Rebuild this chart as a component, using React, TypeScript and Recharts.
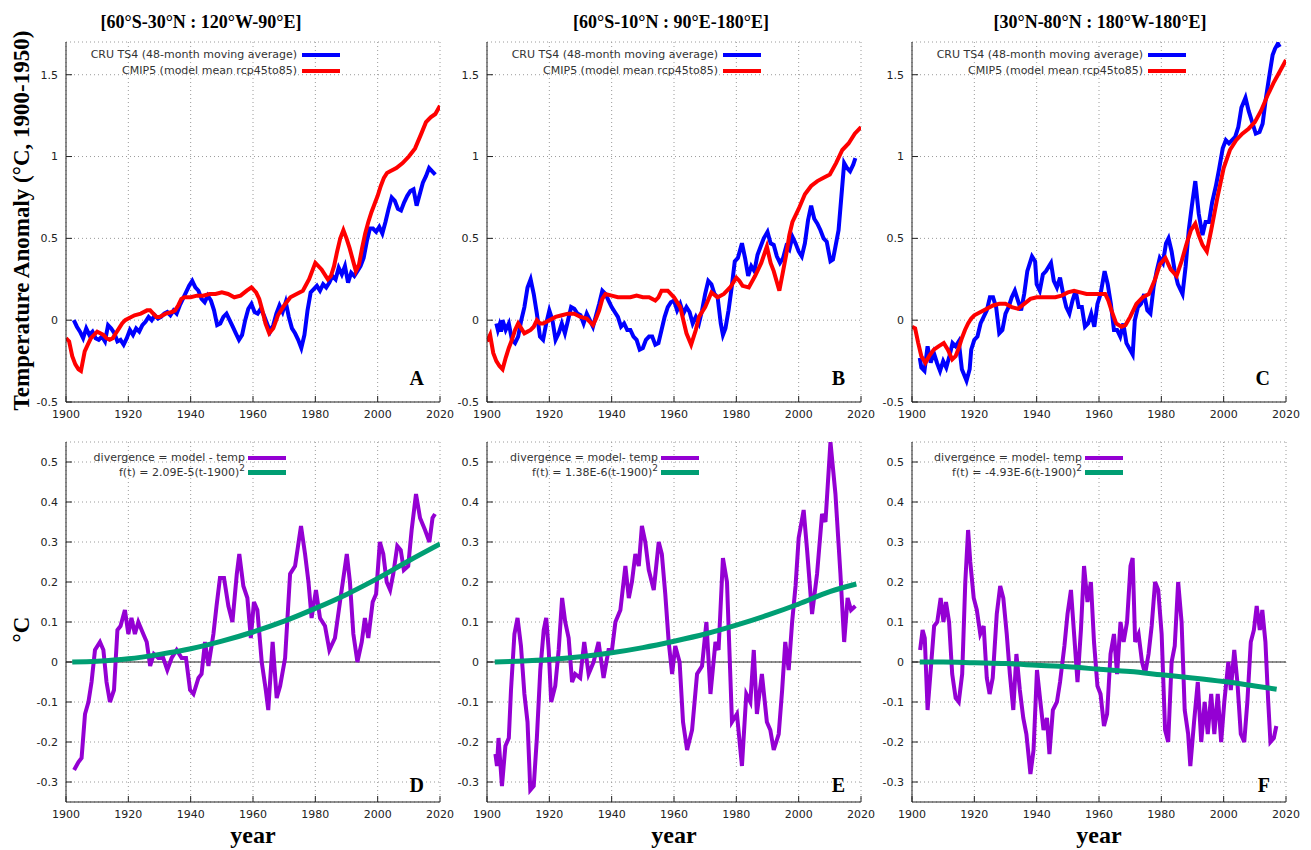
import React from "react";
import {
  LineChart,
  Line,
  XAxis,
  YAxis,
  CartesianGrid,
  ReferenceLine,
  Legend,
} from "recharts";

type Pair = [number, number];

const yearTicks = [1900, 1920, 1940, 1960, 1980, 2000, 2020];
const anomalyTicks = [-0.5, 0, 0.5, 1, 1.5];
const divergenceTicks = [-0.3, -0.2, -0.1, 0, 0.1, 0.2, 0.3, 0.4, 0.5];

const regionTitles = [
  "[60°S-30°N : 120°W-90°E]",
  "[60°S-10°N : 90°E-180°E]",
  "[30°N-80°N : 180°W-180°E]",
];
const topLetters = ["A", "B", "C"];
const bottomLetters = ["D", "E", "F"];
const tempLabel = "CRU TS4 (48-month moving average)";
const modelLabel = "CMIP5 (model mean rcp45to85)";
const divergenceLabels = [
  "divergence = model - temp",
  "divergence = model- temp",
  "divergence = model- temp",
];
const fitCoefs = ["2.09E-5", "1.38E-6", "-4.93E-6"];

// ---- top row: CRU TS4 (blue) and CMIP5 (red) ----
const tempA: Pair[] = [
  [1902.5, 0.0], [1903.5, -0.04], [1904.5, -0.07], [1905.5, -0.11], [1906.5, -0.05], [1907.5, -0.09],
  [1908.5, -0.07], [1909.5, -0.11], [1910.5, -0.12], [1911.5, -0.1], [1912.5, -0.13], [1913.5, -0.03],
  [1914.5, -0.05], [1915.5, -0.08], [1916.5, -0.13], [1917.5, -0.12], [1918.5, -0.15], [1919.5, -0.11],
  [1920.5, -0.06], [1921.5, -0.09], [1922.5, -0.05], [1923.5, -0.07], [1924.5, -0.03], [1925.5, -0.01],
  [1926.5, 0.02], [1927.5, 0.0], [1928.5, 0.03], [1929.5, 0.01], [1930.5, 0.02], [1931.5, 0.04],
  [1932.5, 0.05], [1933.5, 0.03], [1934.5, 0.06], [1935.5, 0.04], [1936.5, 0.09], [1937.5, 0.13],
  [1938.5, 0.17], [1939.5, 0.21], [1940.5, 0.24], [1941.5, 0.2], [1942.5, 0.18], [1943.5, 0.13],
  [1944.5, 0.11], [1945.5, 0.15], [1946.5, 0.12], [1947.5, 0.06], [1948.5, -0.03], [1949.5, -0.02],
  [1950.5, 0.02], [1951.5, 0.04], [1952.5, 0.0], [1953.5, -0.04], [1954.5, -0.08], [1955.5, -0.12],
  [1956.5, -0.09], [1957.5, 0.0], [1958.5, 0.07], [1959.5, 0.1], [1960.5, 0.05], [1961.5, 0.04],
  [1962.5, 0.07], [1963.5, 0.03], [1964.5, -0.02], [1965.5, -0.07], [1966.5, -0.03], [1967.5, 0.04],
  [1968.5, 0.09], [1969.5, 0.05], [1970.5, 0.11], [1971.5, 0.02], [1972.5, -0.05], [1973.5, -0.08],
  [1974.5, -0.12], [1975.5, -0.17], [1976.5, -0.09], [1977.5, 0.06], [1978.5, 0.17], [1979.5, 0.19],
  [1980.5, 0.21], [1981.5, 0.18], [1982.5, 0.22], [1983.5, 0.2], [1984.5, 0.23], [1985.5, 0.27],
  [1986.5, 0.25], [1987.5, 0.32], [1988.5, 0.28], [1989.5, 0.33], [1990.5, 0.23], [1991.5, 0.29],
  [1992.5, 0.27], [1993.5, 0.3], [1994.5, 0.33], [1995.5, 0.38], [1996.5, 0.48], [1997.5, 0.56],
  [1998.5, 0.56], [1999.5, 0.54], [2000.5, 0.57], [2001.5, 0.53], [2002.5, 0.6], [2003.5, 0.68],
  [2004.5, 0.75], [2005.5, 0.73], [2006.5, 0.68], [2007.5, 0.67], [2008.5, 0.72], [2009.5, 0.76],
  [2010.5, 0.79], [2011.5, 0.8], [2012.5, 0.7], [2013.5, 0.77], [2014.5, 0.84], [2015.5, 0.88],
  [2016.5, 0.93], [2017.5, 0.91], [2018.5, 0.89],
];

const modelA: Pair[] = [
  [1900, -0.11], [1901, -0.13], [1902, -0.22], [1903, -0.27], [1904, -0.3], [1904.8, -0.31],
  [1906, -0.19], [1907, -0.15], [1908, -0.11], [1909, -0.09], [1910, -0.07], [1911, -0.08],
  [1912, -0.09], [1913, -0.11], [1914, -0.12], [1915, -0.11], [1916, -0.08], [1917, -0.05],
  [1918, -0.02], [1919, 0.0], [1920, 0.01], [1922, 0.03], [1924, 0.04], [1926, 0.06], [1927, 0.06],
  [1928, 0.04], [1929, 0.02], [1930, 0.02], [1932, 0.04], [1934, 0.05], [1935, 0.06], [1936, 0.09],
  [1937, 0.13], [1938, 0.14], [1940, 0.14], [1942, 0.15], [1944, 0.15], [1946, 0.16], [1948, 0.16],
  [1950, 0.17], [1952, 0.16], [1954, 0.14], [1956, 0.15], [1958, 0.18], [1959.5, 0.2], [1961, 0.17],
  [1962, 0.13], [1963, 0.06], [1964, -0.02], [1965.2, -0.08], [1966.5, -0.05], [1968, 0.03],
  [1970, 0.09], [1972, 0.14], [1974, 0.16], [1976, 0.18], [1978, 0.25], [1980, 0.35], [1982, 0.31],
  [1984, 0.25], [1985, 0.27], [1986, 0.33], [1987, 0.42], [1988, 0.5], [1989, 0.55], [1990, 0.5],
  [1991, 0.44], [1992, 0.37], [1993, 0.3], [1994, 0.34], [1995, 0.44], [1996, 0.53], [1997, 0.6],
  [1998, 0.66], [1999, 0.71], [2000, 0.76], [2001, 0.82], [2002, 0.87], [2003, 0.9], [2004, 0.91],
  [2006, 0.93], [2008, 0.96], [2010, 1.0], [2012, 1.05], [2014, 1.14], [2015.5, 1.21], [2017, 1.24],
  [2018.5, 1.26], [2020, 1.31],
];

const tempB: Pair[] = [
  [1903, -0.02], [1903.5, -0.06], [1904, -0.03], [1904.5, -0.07], [1905, 0.0], [1906, -0.06],
  [1907, -0.02], [1908, -0.12], [1909, -0.14], [1910, -0.1], [1911, 0.0], [1912, 0.08], [1913, 0.2],
  [1914, 0.25], [1915, 0.16], [1916, 0.04], [1917, -0.1], [1918, -0.12], [1919, -0.02], [1920, 0.06],
  [1921, 0.0], [1922, -0.12], [1923, -0.08], [1924, -0.02], [1925, -0.08], [1926, 0.0], [1927, 0.08],
  [1928, 0.07], [1929, 0.04], [1930, 0.03], [1931, -0.02], [1932, 0.04], [1933, 0.0], [1934, -0.04],
  [1935, 0.03], [1936, 0.1], [1937, 0.18], [1938, 0.16], [1939, 0.12], [1940, 0.08], [1941, 0.05],
  [1942, 0.02], [1943, -0.04], [1944, -0.02], [1945, -0.06], [1946, -0.06], [1947, -0.1], [1948, -0.12],
  [1949, -0.18], [1950, -0.17], [1951, -0.12], [1952, -0.1], [1953, -0.1], [1954, -0.15], [1955, -0.14],
  [1956, -0.06], [1957, 0.02], [1958, 0.08], [1959, 0.11], [1960, 0.12], [1961, 0.06], [1962, 0.1],
  [1963, 0.04], [1964, 0.08], [1965, 0.05], [1966, -0.02], [1967, 0.02], [1968, -0.02], [1969, 0.06],
  [1970, 0.16], [1971, 0.24], [1972, 0.22], [1973, 0.16], [1974, 0.14], [1975, -0.02], [1975.7, -0.09],
  [1976.5, -0.05], [1977.5, 0.06], [1978.5, 0.2], [1979.5, 0.36], [1980.5, 0.38], [1981.8, 0.47],
  [1982.8, 0.38], [1983.8, 0.27], [1984.8, 0.33], [1985.8, 0.3], [1986.8, 0.4], [1987.8, 0.45],
  [1988.8, 0.5], [1990, 0.54], [1991, 0.47], [1992, 0.46], [1993, 0.39], [1994, 0.35], [1995, 0.38],
  [1996, 0.45], [1997, 0.43], [1998, 0.51], [1999, 0.47], [2000, 0.42], [2001, 0.39], [2002, 0.47],
  [2003, 0.61], [2004, 0.7], [2005, 0.62], [2006, 0.59], [2007, 0.55], [2008, 0.5], [2009, 0.48],
  [2010.2, 0.36], [2011, 0.37], [2011.8, 0.45], [2012.8, 0.55], [2013.9, 0.8], [2014.6, 0.96],
  [2015.5, 0.93], [2016.5, 0.91], [2017.5, 0.95], [2018.2, 0.99],
];

const modelB: Pair[] = [
  [1900, -0.13], [1901, -0.09], [1902, -0.2], [1903, -0.25], [1904, -0.28], [1905, -0.3], [1906, -0.23],
  [1907, -0.17], [1908, -0.12], [1909, -0.06], [1910, -0.02], [1911, -0.05], [1912, -0.08], [1913, -0.07],
  [1914, -0.06], [1915, -0.04], [1916, 0.0], [1917, -0.02], [1918, -0.02], [1920, 0.0], [1922, 0.02],
  [1924, 0.03], [1926, 0.04], [1928, 0.04], [1930, 0.02], [1932, 0.01], [1934, -0.03], [1935, 0.01],
  [1936, 0.06], [1937, 0.13], [1938, 0.16], [1940, 0.15], [1942, 0.14], [1944, 0.14], [1946, 0.14],
  [1948, 0.15], [1950, 0.14], [1952, 0.14], [1954, 0.12], [1955, 0.14], [1956, 0.18], [1958, 0.18],
  [1960, 0.14], [1962, 0.08], [1963, 0.0], [1964, -0.08], [1965.5, -0.15], [1967, -0.06], [1968, 0.02],
  [1970, 0.08], [1972, 0.17], [1974, 0.14], [1976, 0.16], [1978, 0.2], [1980, 0.26], [1981, 0.24],
  [1982, 0.21], [1984, 0.2], [1986, 0.27], [1988, 0.35], [1989.8, 0.45], [1991, 0.35], [1992, 0.3],
  [1993.8, 0.18], [1995, 0.3], [1996, 0.4], [1997, 0.52], [1998, 0.6], [2000, 0.68], [2002, 0.77],
  [2004, 0.82], [2006, 0.85], [2008, 0.87], [2010, 0.89], [2012, 0.96], [2014, 1.04], [2016, 1.08],
  [2018, 1.14], [2020, 1.18],
];

const tempC: Pair[] = [
  [1902.5, -0.23], [1903, -0.29], [1904, -0.31], [1905, -0.16], [1906, -0.26], [1907, -0.2], [1908, -0.26],
  [1909, -0.31], [1910, -0.25], [1911, -0.29], [1912, -0.22], [1913, -0.14], [1914, -0.16], [1915, -0.13],
  [1916, -0.3], [1917.5, -0.37], [1918.5, -0.3], [1919, -0.18], [1920, -0.12], [1921, -0.1], [1922, -0.02],
  [1923, 0.02], [1924, 0.06], [1925, 0.14], [1926, 0.14], [1927, 0.08], [1928, -0.08], [1929, -0.06],
  [1930, 0.04], [1931, 0.08], [1932, 0.14], [1933, 0.18], [1934, 0.12], [1935, 0.06], [1936, 0.16],
  [1937, 0.3], [1938.5, 0.39], [1939.5, 0.36], [1940, 0.22], [1941, 0.18], [1942, 0.28], [1943, 0.3],
  [1944.6, 0.35], [1945.5, 0.24], [1946.5, 0.2], [1947.5, 0.26], [1948.5, 0.16], [1949.5, 0.08],
  [1950.5, 0.04], [1951.5, 0.12], [1952.5, 0.18], [1953.5, 0.08], [1954.5, 0.08], [1955.5, -0.04],
  [1956.5, -0.02], [1957.5, 0.04], [1958.5, -0.04], [1959.5, 0.1], [1960.5, 0.16], [1961.8, 0.3],
  [1962.8, 0.22], [1963.8, 0.1], [1964.8, -0.06], [1965.8, -0.06], [1966.8, -0.1], [1967.8, -0.02],
  [1968.8, -0.14], [1970.8, -0.21], [1971.5, 0.0], [1972.5, 0.08], [1973.5, 0.1], [1974.5, 0.16],
  [1975.5, 0.06], [1976.5, 0.04], [1977.5, 0.2], [1978.5, 0.3], [1979.5, 0.38], [1980.5, 0.35],
  [1981.5, 0.47], [1982.3, 0.5], [1983.3, 0.42], [1984.3, 0.3], [1985.3, 0.22], [1986.8, 0.16],
  [1987.8, 0.33], [1988.8, 0.55], [1989.8, 0.7], [1990.9, 0.85], [1992, 0.65], [1993.2, 0.52],
  [1994.2, 0.6], [1995.3, 0.6], [1996.3, 0.72], [1997.5, 0.82], [1998.5, 0.92], [1999.7, 1.05],
  [2000.7, 1.1], [2001.7, 1.08], [2002.7, 1.1], [2003.7, 1.12], [2004.7, 1.18], [2005.7, 1.3],
  [2007, 1.36], [2008, 1.28], [2009, 1.22], [2010.3, 1.14], [2011.5, 1.15], [2012.5, 1.2],
  [2013.5, 1.35], [2014.7, 1.5], [2015.7, 1.62], [2016.5, 1.66], [2017.4, 1.69], [2018, 1.67],
];

const modelC: Pair[] = [
  [1900, -0.04], [1901, -0.05], [1902, -0.14], [1903, -0.22], [1904.3, -0.26], [1905.5, -0.22],
  [1907, -0.18], [1908.5, -0.16], [1910.2, -0.14], [1911.5, -0.18], [1912.9, -0.24], [1914, -0.22],
  [1915, -0.17], [1916, -0.11], [1917, -0.06], [1918, -0.02], [1919, 0.01], [1920, 0.03], [1922, 0.05],
  [1924, 0.07], [1926, 0.09], [1928, 0.1], [1930, 0.1], [1932, 0.08], [1934, 0.07], [1936, 0.1],
  [1938, 0.13], [1940, 0.14], [1942, 0.14], [1944, 0.14], [1946, 0.14], [1948, 0.15], [1950, 0.17],
  [1952, 0.18], [1954, 0.17], [1956, 0.16], [1958, 0.16], [1960, 0.16], [1962, 0.16], [1963, 0.12],
  [1964, 0.06], [1965.5, -0.02], [1967.2, -0.04], [1968.5, -0.03], [1970, 0.02], [1972, 0.1],
  [1974, 0.14], [1976, 0.16], [1978, 0.25], [1979.5, 0.34], [1981.3, 0.38], [1983, 0.31],
  [1984.9, 0.27], [1986.5, 0.36], [1988, 0.46], [1989.5, 0.55], [1990.9, 0.59], [1992, 0.52],
  [1993.2, 0.46], [1994.6, 0.42], [1996, 0.55], [1998, 0.75], [2000, 0.93], [2002, 1.04], [2004, 1.1],
  [2006, 1.14], [2008, 1.17], [2010, 1.21], [2012, 1.28], [2014, 1.37], [2016, 1.45], [2018, 1.52],
  [2020, 1.59],
];

// ---- bottom row: divergence (purple) and quadratic fit (green) ----
const divD: Pair[] = [
  [1902.6, -0.27], [1904, -0.25], [1905, -0.24], [1906.1, -0.13], [1907.2, -0.1], [1908.2, -0.05],
  [1909.3, 0.03], [1910.9, 0.05], [1912, 0.03], [1913, -0.05], [1914.1, -0.1], [1915.4, -0.07],
  [1916.5, 0.08], [1917.5, 0.09], [1918.9, 0.13], [1920, 0.07], [1921, 0.11], [1922.1, 0.07],
  [1923.2, 0.1], [1924.8, 0.07], [1925.9, 0.05], [1927, -0.01], [1928.2, 0.02], [1929.6, 0.01],
  [1931.2, 0.01], [1932.5, -0.02], [1933.9, 0.01], [1935.5, 0.03], [1937.1, 0.01], [1938.5, 0.01],
  [1939.8, -0.07], [1940.9, -0.08], [1942.5, -0.04], [1943.5, -0.03], [1944.6, 0.05], [1945.7, -0.01],
  [1947.3, 0.07], [1948.3, 0.14], [1949.4, 0.21], [1950.7, 0.21], [1952.1, 0.14], [1953.4, 0.1],
  [1954.8, 0.22], [1955.6, 0.27], [1956.9, 0.19], [1958.2, 0.16], [1959.3, 0.06], [1960.3, 0.15],
  [1961.4, 0.13], [1962.8, 0.0], [1964.1, -0.07], [1964.9, -0.12], [1966.3, 0.05], [1967.6, -0.09],
  [1968.7, -0.06], [1970.3, 0.01], [1971.9, 0.22], [1973.5, 0.24], [1975.4, 0.34], [1976.7, 0.27],
  [1977.8, 0.2], [1978.8, 0.11], [1980.2, 0.18], [1981.5, 0.11], [1983.1, 0.09], [1984.5, 0.03],
  [1986.3, 0.06], [1987.9, 0.15], [1989, 0.21], [1990.1, 0.27], [1991.1, 0.2], [1992.2, 0.07],
  [1993.5, 0.0], [1994.9, 0.05], [1995.9, 0.11], [1997, 0.06], [1998.4, 0.15], [1999.5, 0.17],
  [2000.7, 0.3], [2001.8, 0.27], [2002.9, 0.2], [2004, 0.18], [2005, 0.22], [2006.3, 0.29],
  [2007.4, 0.28], [2008.4, 0.23], [2009.8, 0.24], [2010.9, 0.33], [2012.3, 0.42], [2013.6, 0.36],
  [2015.2, 0.33], [2016.6, 0.3], [2017.6, 0.36], [2018.4, 0.37],
];

const fitD: Pair[] = [
  [1902, 0], [1910, 0.002], [1920, 0.008], [1930, 0.019], [1940, 0.033], [1950, 0.052], [1960, 0.075],
  [1970, 0.102], [1980, 0.134], [1990, 0.169], [2000, 0.209], [2010, 0.253], [2020, 0.295],
];

const divE: Pair[] = [
  [1902.7, -0.23], [1903.2, -0.26], [1903.7, -0.19], [1904.8, -0.31], [1905.9, -0.21], [1907, -0.19],
  [1907.7, -0.07], [1908.8, 0.07], [1909.8, 0.11], [1910.9, 0.04], [1912, -0.08], [1913, -0.15],
  [1913.9, -0.32], [1915, -0.31], [1916, -0.19], [1917.1, -0.02], [1918.2, 0.08], [1919, 0.11],
  [1919.8, 0.03], [1920.6, -0.1], [1921.9, -0.06], [1923, 0.03], [1924.1, 0.16], [1925.1, 0.1],
  [1926.2, 0.06], [1927.3, -0.05], [1928.3, -0.03], [1929.9, -0.04], [1931.2, 0.05], [1932.6, -0.03],
  [1934.2, 0.0], [1935.8, 0.05], [1937.4, -0.04], [1939, 0.03], [1940.1, 0.03], [1941.2, 0.1],
  [1942.8, 0.13], [1944.4, 0.24], [1945.5, 0.16], [1946.5, 0.2], [1947.6, 0.27], [1948.7, 0.24],
  [1949.7, 0.34], [1950.8, 0.3], [1951.9, 0.23], [1953.5, 0.18], [1955.1, 0.3], [1956.1, 0.27],
  [1957.2, 0.17], [1958.3, 0.05], [1959.4, -0.03], [1960.4, 0.04], [1961.8, 0.0], [1962.9, -0.15],
  [1964.2, -0.22], [1965.8, -0.17], [1967.4, -0.03], [1969, -0.01], [1970.4, 0.1], [1971.7, -0.08],
  [1973.3, 0.05], [1974.3, 0.03], [1975.7, 0.26], [1977, 0.2], [1978.6, -0.15], [1980.2, -0.13],
  [1981.8, -0.26], [1983.2, -0.08], [1984.5, -0.1], [1985.6, 0.03], [1986.6, -0.13], [1988.2, -0.03],
  [1989.8, -0.15], [1990.9, -0.17], [1992, -0.22], [1993.6, -0.18], [1994.7, -0.07], [1995.7, 0.05],
  [1996.8, -0.02], [1997.9, 0.1], [1999, 0.19], [2000, 0.31], [2001.6, 0.38], [2002.7, 0.28],
  [2004.3, 0.12], [2005.9, 0.22], [2007.5, 0.37], [2008.6, 0.35], [2010.2, 0.55], [2011.8, 0.42],
  [2013.4, 0.22], [2014.6, 0.05], [2015.7, 0.16], [2016.8, 0.13], [2018.2, 0.14],
];

const fitE: Pair[] = [
  [1902.5, 0], [1910, 0.002], [1920, 0.006], [1930, 0.013], [1940, 0.023], [1950, 0.036], [1960, 0.052],
  [1970, 0.07], [1980, 0.092], [1990, 0.117], [2000, 0.145], [2010, 0.176], [2018.5, 0.195],
];

const divF: Pair[] = [
  [1902.6, 0.03], [1903.4, 0.08], [1904.1, 0.06], [1905, -0.12], [1906, -0.02], [1907.1, 0.09],
  [1908.1, 0.1], [1909.2, 0.16], [1910.1, 0.1], [1910.9, 0.15], [1911.9, 0.1], [1912.9, -0.03],
  [1914, -0.09], [1915, -0.1], [1916.1, -0.03], [1917.1, 0.2], [1918, 0.33], [1918.7, 0.25],
  [1919.8, 0.16], [1920.8, 0.13], [1921.9, 0.07], [1923, 0.09], [1924, -0.04], [1924.9, -0.08],
  [1925.9, -0.04], [1927.2, 0.12], [1928.3, 0.19], [1929.3, 0.16], [1930.4, 0.07], [1931.4, -0.03],
  [1932.5, -0.12], [1933.5, 0.02], [1934.6, -0.07], [1935.7, -0.14], [1936.7, -0.18], [1938, -0.28],
  [1939, -0.22], [1940.1, -0.02], [1941.2, -0.1], [1942.2, -0.17], [1943.3, -0.14], [1944.1, -0.23],
  [1945.2, -0.12], [1946.5, -0.1], [1947.5, -0.05], [1948.9, 0.04], [1949.9, 0.12], [1951, 0.18],
  [1952.1, 0.06], [1953.1, -0.05], [1954.2, 0.08], [1955.2, 0.24], [1956.3, 0.15], [1957.4, 0.2],
  [1958.4, 0.05], [1959.5, -0.06], [1960.5, -0.08], [1961.6, -0.16], [1962.6, -0.13], [1963.7, 0.02],
  [1964.8, 0.07], [1965.8, -0.03], [1966.9, 0.1], [1967.9, 0.05], [1969, 0.1], [1970.1, 0.24],
  [1970.8, 0.26], [1971.6, 0.05], [1972.7, 0.07], [1973.8, 0.0], [1974.8, -0.03], [1975.9, 0.02],
  [1976.9, 0.09], [1978, 0.2], [1979, 0.18], [1980.1, 0.07], [1981.2, -0.17], [1982.2, -0.2],
  [1983.3, 0.0], [1984.3, 0.04], [1985.4, 0.2], [1986.5, 0.1], [1987.5, -0.12], [1988.6, -0.18],
  [1989.3, -0.26], [1990.5, -0.15], [1991.7, -0.05], [1992.8, -0.2], [1993.9, -0.1], [1994.9, -0.18],
  [1996, -0.08], [1997, -0.18], [1998.1, -0.08], [1999.2, -0.2], [2000.2, -0.1], [2001.5, 0.0],
  [2002.3, -0.07], [2003.4, 0.03], [2004.4, -0.05], [2005.5, -0.18], [2006.6, -0.2], [2007.6, -0.1],
  [2008.7, 0.05], [2009.7, 0.08], [2010.6, 0.14], [2011.6, 0.08], [2012.4, 0.13], [2013.4, 0.05],
  [2014.3, -0.1], [2015, -0.2], [2016.1, -0.19], [2016.9, -0.16],
];

const fitF: Pair[] = [
  [1902.5, 0], [1910, 0], [1920, -0.002], [1930, -0.004], [1940, -0.008], [1950, -0.012], [1960, -0.018],
  [1970, -0.024], [1980, -0.032], [1990, -0.04], [2000, -0.049], [2010, -0.06], [2017, -0.068],
];

const plotLefts = [66, 487, 912];
const PLOT_W = 374;
const PLOT_H = 360;
const CHART_W = 60 + PLOT_W + 20;

const BLUE = "#0000ff";
const RED = "#ff0000";
const PURPLE = "#9400d3";
const GREEN = "#009e73";

const serif = "'Liberation Serif', 'Times New Roman', serif";
const sans = "'DejaVu Sans', Verdana, sans-serif";

const axisStroke = { stroke: "#222", strokeWidth: 1 };
const tickStyle = { fill: "#222", fontSize: 11, fontFamily: sans };

interface Series {
  key: string;
  label: React.ReactNode;
  points: Pair[];
  color: string;
  width: number;
  smooth?: boolean;
}

interface KeySpec {
  top: number;
  rowH: number;
  textW: number;
  gap: number;
  sampleW: number;
}

const toPoints = (p: Pair[]) => p.map(([x, y]) => ({ x, y }));

const KeyBox = ({ series, spec }: { series: Series[]; spec: KeySpec }) => (
  <div
    style={{
      position: "relative",
      width: spec.textW + spec.gap + spec.sampleW,
      height: spec.rowH * series.length,
      fontFamily: sans,
      fontSize: 11,
      color: "#333",
    }}
  >
    {series.map((s, i) => (
      <div
        key={s.key}
        style={{
          position: "absolute",
          top: i * spec.rowH,
          left: 0,
          height: spec.rowH,
          display: "flex",
          alignItems: "center",
        }}
      >
        <span
          style={{
            width: spec.textW,
            textAlign: "right",
            whiteSpace: "nowrap",
            lineHeight: `${spec.rowH}px`,
          }}
        >
          {s.label}
        </span>
        <span
          style={{
            marginLeft: spec.gap,
            width: spec.sampleW,
            height: s.width,
            background: s.color,
            display: "inline-block",
          }}
        />
      </div>
    ))}
  </div>
);

interface PanelProps {
  plotLeft: number;
  chartTop: number;
  chartH: number;
  plotTop: number;
  yDomain: [number, number];
  yTicks: number[];
  series: Series[];
  zero?: boolean;
  keySpec: KeySpec;
}

const Panel = ({ plotLeft, chartTop, chartH, plotTop, yDomain, yTicks, series, zero, keySpec }: PanelProps) => {
  const marginBottom = chartH - plotTop - PLOT_H - 22;
  return (
    <div style={{ position: "absolute", left: plotLeft - 60, top: chartTop }}>
      <LineChart
        width={CHART_W}
        height={chartH}
        margin={{ top: plotTop, right: 20, bottom: marginBottom, left: 10 }}
      >
        <CartesianGrid stroke="#9a9a9a" strokeDasharray="1 3" />
        <XAxis
          dataKey="x"
          type="number"
          domain={[1900, 2020]}
          ticks={yearTicks}
          interval={0}
          height={22}
          tickSize={-6}
          tickMargin={14}
          axisLine={axisStroke}
          tickLine={axisStroke}
          tick={tickStyle}
          allowDataOverflow
        />
        <XAxis
          xAxisId="top"
          orientation="top"
          type="number"
          domain={[1900, 2020]}
          ticks={yearTicks}
          interval={0}
          height={0}
          tickSize={-6}
          axisLine={axisStroke}
          tickLine={axisStroke}
          tick={false}
        />
        <YAxis
          type="number"
          domain={yDomain}
          ticks={yTicks}
          interval={0}
          width={50}
          tickSize={-6}
          tickMargin={14}
          axisLine={axisStroke}
          tickLine={axisStroke}
          tick={tickStyle}
          allowDataOverflow
        />
        <YAxis
          yAxisId="right"
          orientation="right"
          type="number"
          domain={yDomain}
          ticks={yTicks}
          interval={0}
          width={0}
          tickSize={-6}
          axisLine={axisStroke}
          tickLine={axisStroke}
          tick={false}
        />
        {zero && <ReferenceLine y={0} stroke="#222" strokeWidth={1} />}
        {series.map((s) => (
          <Line
            key={s.key}
            data={toPoints(s.points)}
            dataKey="y"
            name={s.key}
            type={s.smooth ? "monotone" : "linear"}
            stroke={s.color}
            strokeWidth={s.width}
            dot={false}
            activeDot={false}
            isAnimationActive={false}
          />
        ))}
        <Legend
          layout="horizontal"
          align="center"
          verticalAlign="middle"
          wrapperStyle={{ top: plotTop + keySpec.top, left: 60, width: 300 }}
          content={() => <KeyBox series={series} spec={keySpec} />}
        />
      </LineChart>
    </div>
  );
};

const fitLabel = (coef: string) => (
  <>
    f(t) = {coef}(t-1900)
    <span style={{ fontSize: 9, position: "relative", top: -5 }}>2</span>
  </>
);

const temps = [tempA, tempB, tempC];
const models = [modelA, modelB, modelC];
const divs = [divD, divE, divF];
const fits = [fitD, fitE, fitF];
const bottomTextW = [179, 171, 170];

const App = () => {
  return (
    <div
      style={{
        position: "absolute",
        left: 0,
        top: 0,
        width: 1311,
        height: 850,
        background: "#fff",
        overflow: "hidden",
      }}
    >
      {plotLefts.map((left, i) => (
        <Panel
          key={`top-${i}`}
          plotLeft={left}
          chartTop={0}
          chartH={430}
          plotTop={42}
          yDomain={[-0.5, 1.7]}
          yTicks={anomalyTicks}
          series={[
            { key: "temp", label: tempLabel, points: temps[i], color: BLUE, width: 4 },
            { key: "model", label: modelLabel, points: models[i], color: RED, width: 4 },
          ]}
          keySpec={{ top: 5, rowH: 16, textW: 231, gap: 5, sampleW: 38 }}
        />
      ))}
      {plotLefts.map((left, i) => (
        <Panel
          key={`bottom-${i}`}
          plotLeft={left}
          chartTop={430}
          chartH={420}
          plotTop={12}
          yDomain={[-0.35, 0.55]}
          yTicks={divergenceTicks}
          zero
          series={[
            { key: "div", label: divergenceLabels[i], points: divs[i], color: PURPLE, width: 4 },
            { key: "fit", label: fitLabel(fitCoefs[i]), points: fits[i], color: GREEN, width: 5, smooth: true },
          ]}
          keySpec={{ top: 8, rowH: 15, textW: bottomTextW[i], gap: 3, sampleW: 38 }}
        />
      ))}

      {/* region titles */}
      {[201, 671, 1100].map((cx, i) => (
        <div
          key={`title-${i}`}
          style={{
            position: "absolute",
            left: cx - 200,
            width: 400,
            top: 13,
            textAlign: "center",
            fontFamily: serif,
            fontWeight: "bold",
            fontSize: 18,
            lineHeight: "18px",
            color: "#000",
            whiteSpace: "nowrap",
          }}
        >
          {regionTitles[i]}
        </div>
      ))}

      {/* panel letters */}
      {plotLefts.map((left, i) => (
        <React.Fragment key={`letters-${i}`}>
          <div
            style={{
              position: "absolute",
              left: left + PLOT_W - 16 - 40,
              width: 40,
              top: 368,
              textAlign: "right",
              fontFamily: serif,
              fontWeight: "bold",
              fontSize: 20,
              lineHeight: "20px",
            }}
          >
            {topLetters[i]}
          </div>
          <div
            style={{
              position: "absolute",
              left: left + PLOT_W - 16 - 40,
              width: 40,
              top: 775,
              textAlign: "right",
              fontFamily: serif,
              fontWeight: "bold",
              fontSize: 20,
              lineHeight: "20px",
            }}
          >
            {bottomLetters[i]}
          </div>
          <div
            style={{
              position: "absolute",
              left: left + PLOT_W / 2 - 60,
              width: 120,
              top: 823,
              textAlign: "center",
              fontFamily: serif,
              fontWeight: "bold",
              fontSize: 24,
              lineHeight: "24px",
            }}
          >
            year
          </div>
        </React.Fragment>
      ))}

      {/* rotated y-axis labels */}
      <div
        style={{
          position: "absolute",
          left: 21 - 210,
          top: 220 - 11.5,
          width: 420,
          height: 23,
          textAlign: "center",
          fontFamily: serif,
          fontWeight: "bold",
          fontSize: 23,
          lineHeight: "23px",
          whiteSpace: "nowrap",
          transform: "rotate(-90deg)",
        }}
      >
        Temperature Anomaly (°C, 1900-1950)
      </div>
      <div
        style={{
          position: "absolute",
          left: 21 - 40,
          top: 629 - 11.5,
          width: 80,
          height: 23,
          textAlign: "center",
          fontFamily: serif,
          fontWeight: "bold",
          fontSize: 23,
          lineHeight: "23px",
          whiteSpace: "nowrap",
          transform: "rotate(-90deg)",
        }}
      >
        °C
      </div>
    </div>
  );
};

export default App;
